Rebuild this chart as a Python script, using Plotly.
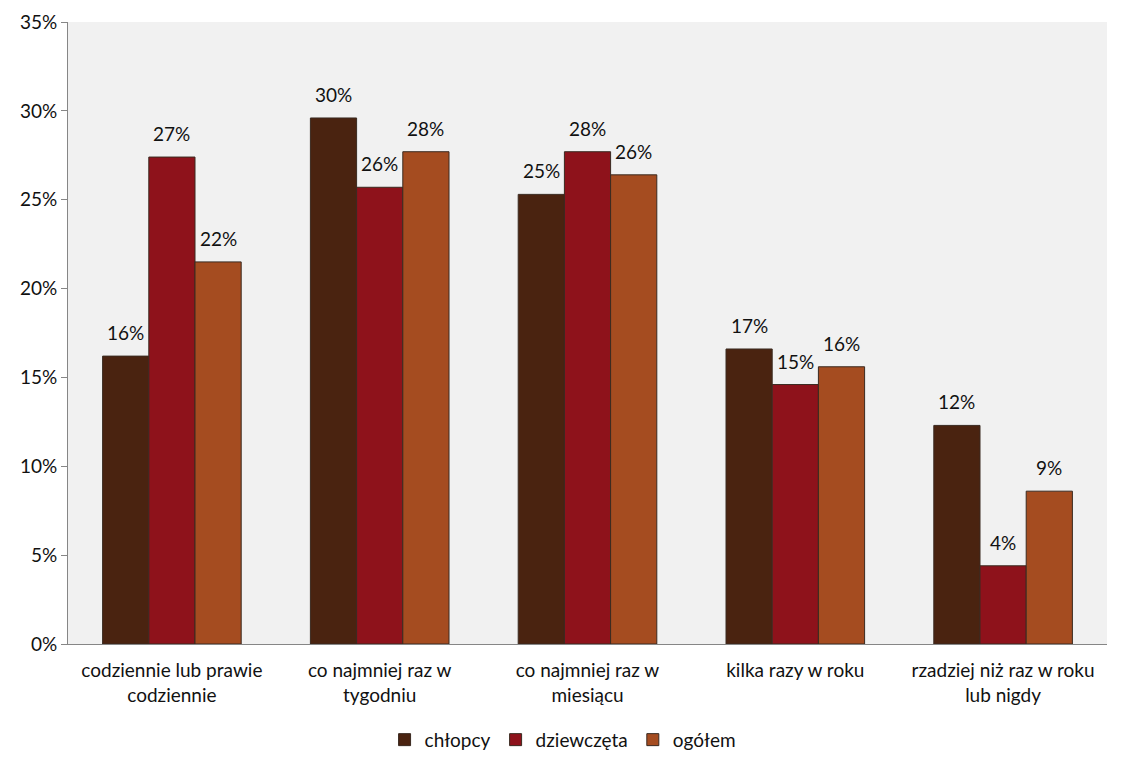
import plotly.graph_objects as go

categories = ["codziennie lub prawie<br>codziennie", "co najmniej raz w<br>tygodniu",
              "co najmniej raz w<br>miesiącu", "kilka razy w roku",
              "rzadziej niż raz w roku<br>lub nigdy"]
series_names = ["chłopcy", "dziewczęta", "ogółem"]
chlopcy = [0.162, 0.296, 0.253, 0.166, 0.123]
dziewczeta = [0.274, 0.257, 0.277, 0.146, 0.044]
ogolem = [0.215, 0.277, 0.264, 0.156, 0.086]
colors = ["#4A2310", "#8E121B", "#A54C20"]
y_ticks = [0, 0.05, 0.10, 0.15, 0.20, 0.25, 0.30, 0.35]

FONT = "Lato, 'Open Sans', sans-serif"
FS = 19
fig = go.Figure()
all_series = [chlopcy, dziewczeta, ogolem]
for name, vals, col in zip(series_names, all_series, colors):
    fig.add_trace(go.Bar(x=categories, y=vals, name=name,
                         marker=dict(color=col, line=dict(color="#3a2a20", width=1))))

bar_px = 46.2
annotations = []
for i, vals in enumerate(all_series):
    for c, v in zip(categories, vals):
        annotations.append(dict(x=c, y=v, xref="x", yref="y", text=f"{round(v*100):.0f}%",
                                showarrow=False, yanchor="bottom", yshift=10,
                                xshift=(i - 1) * bar_px,
                                font=dict(size=FS, color="#111111", family=FONT)))

fig.update_layout(
    width=1121, height=763,
    margin=dict(l=60, r=22, t=14, b=127),
    paper_bgcolor="white", plot_bgcolor="#F1F1F1",
    barmode="group", bargap=0.333, bargroupgap=0,
    font=dict(family=FONT, size=FS, color="#111111"),
    showlegend=True,
    legend=dict(orientation="h", x=0.476, xanchor="center", y=-0.154, yanchor="middle",
                font=dict(size=FS), traceorder="normal"),
    annotations=annotations,
)
fig.update_yaxes(range=[0, 0.35], tickvals=y_ticks, tickformat=".0%", showgrid=False,
                 showline=True, linecolor="#868686", linewidth=1,
                 ticks="outside", ticklen=6, tickcolor="#868686", zeroline=False,
                 tickfont=dict(size=FS), automargin=False)
fig.update_xaxes(showline=True, linecolor="#868686", linewidth=1, ticks="",
                 showgrid=False, tickfont=dict(size=FS), ticklabelstandoff=9,
                 automargin=False)

fig.write_html("out.html")
